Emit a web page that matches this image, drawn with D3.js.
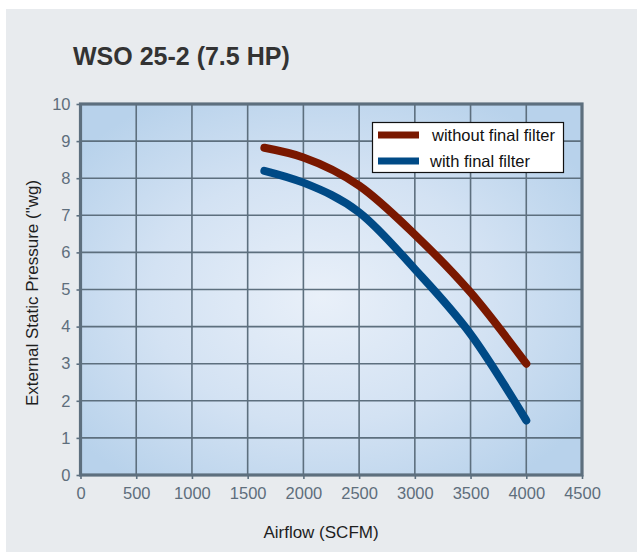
<!DOCTYPE html>
<html>
<head>
<meta charset="utf-8">
<script src="https://cdn.jsdelivr.net/npm/d3@7"></script>
<style>
  body { margin: 0; background: #fff; }
  svg { display: block; font-family: "Liberation Sans", Arial, sans-serif; }
</style>
</head>
<body>
<div id="chart"></div>
<script>
// values
var airflow = [1650, 2000, 2500, 3000, 3500, 4000];
var withoutFilter = [8.82, 8.56, 7.80, 6.48, 4.92, 3.00];
var withFilter = [8.20, 7.88, 7.08, 5.55, 3.80, 1.47];
var xTicks = [0, 500, 1000, 1500, 2000, 2500, 3000, 3500, 4000, 4500];
var yTicks = [0, 1, 2, 3, 4, 5, 6, 7, 8, 9, 10];
var seriesNames = ["without final filter", "with final filter"];
var seriesColors = ["#7a1800", "#004a86"];

var svgWidth = 637;
var svgHeight = 552;

var svg = d3.select("#chart")
  .append("svg")
  .attr("width", svgWidth)
  .attr("height", svgHeight);

// grey panel
svg.append("rect")
  .attr("x", 6).attr("y", 9)
  .attr("width", svgWidth - 6).attr("height", svgHeight - 9)
  .attr("fill", "#e8ebee");

var x = d3.scaleLinear().domain([0, 4500]).range([80.5, 582]);
var y = d3.scaleLinear().domain([0, 10]).range([475, 104]);

var defs = svg.append("defs");
var grad = defs.append("radialGradient")
  .attr("id", "plotBg")
  .attr("cx", "48%").attr("cy", "52%").attr("r", "62%");
grad.append("stop").attr("offset", "0%").attr("stop-color", "#e9f0f9");
grad.append("stop").attr("offset", "55%").attr("stop-color", "#d3e2f3");
grad.append("stop").attr("offset", "100%").attr("stop-color", "#b8d2eb");

svg.append("rect")
  .attr("x", x(0)).attr("y", y(10))
  .attr("width", x(4500) - x(0)).attr("height", y(0) - y(10))
  .attr("fill", "url(#plotBg)");

var gridColor = "#5d6f7e";

// grid
svg.append("g").selectAll("line")
  .data(xTicks)
  .enter().append("line")
  .attr("x1", d => x(d)).attr("x2", d => x(d))
  .attr("y1", y(10)).attr("y2", y(0))
  .attr("stroke", gridColor).attr("stroke-width", 1.6);

svg.append("g").selectAll("line")
  .data(yTicks)
  .enter().append("line")
  .attr("x1", x(0)).attr("x2", x(4500))
  .attr("y1", d => y(d)).attr("y2", d => y(d))
  .attr("stroke", gridColor).attr("stroke-width", 1.6);

// axes
var xAxis = d3.axisBottom(x).tickValues(xTicks).tickSize(4).tickPadding(8).tickFormat(d3.format("d"));
var yAxis = d3.axisLeft(y).tickValues(yTicks).tickSize(4).tickPadding(6).tickFormat(d3.format("d"));

var gx = svg.append("g")
  .attr("transform", `translate(0, ${y(0)})`)
  .call(xAxis);
var gy = svg.append("g")
  .attr("transform", `translate(${x(0)}, 0)`)
  .call(yAxis);

[gx, gy].forEach(function(g) {
  g.select(".domain").remove();
  g.selectAll(".tick line").attr("stroke", gridColor).attr("stroke-width", 1.6);
  g.selectAll(".tick text")
    .attr("fill", "#5e6e7c")
    .attr("font-size", 16.5)
    .attr("font-family", "Liberation Sans, Arial, sans-serif");
});

// frame
svg.append("rect")
  .attr("x", x(0)).attr("y", y(10))
  .attr("width", x(4500) - x(0)).attr("height", y(0) - y(10))
  .attr("fill", "none")
  .attr("stroke", gridColor)
  .attr("stroke-width", 3.2);

// curves
var line = d3.line()
  .x(d => x(d[0]))
  .y(d => y(d[1]))
  .curve(d3.curveMonotoneX);

[withoutFilter, withFilter].forEach(function(vals, i) {
  svg.append("path")
    .datum(airflow.map((a, j) => [a, vals[j]]))
    .attr("d", line)
    .attr("fill", "none")
    .attr("stroke", seriesColors[i])
    .attr("stroke-width", 8)
    .attr("stroke-linecap", "round")
    .attr("stroke-linejoin", "round");
});

// legend
var legend = svg.append("g");
legend.append("rect")
  .attr("x", 372.5).attr("y", 122.5)
  .attr("width", 191).attr("height", 50)
  .attr("fill", "#fff")
  .attr("stroke", "#111")
  .attr("stroke-width", 1.2);

seriesNames.forEach(function(name, i) {
  var ly = 135 + i * 26;
  legend.append("line")
    .attr("x1", 378).attr("x2", 419)
    .attr("y1", ly).attr("y2", ly)
    .attr("stroke", seriesColors[i])
    .attr("stroke-width", 7);
  legend.append("text")
    .attr("x", i == 0 ? 432 : 430)
    .attr("y", ly + 5.5)
    .attr("font-size", 16.5)
    .attr("fill", "#111")
    .text(name);
});

// titles
svg.append("text")
  .attr("x", 73).attr("y", 65)
  .attr("font-size", 25)
  .attr("font-weight", "bold")
  .attr("fill", "#333")
  .text("WSO 25-2 (7.5 HP)");

svg.append("text")
  .attr("transform", "translate(38, 293) rotate(-90)")
  .attr("text-anchor", "middle")
  .attr("font-size", 17)
  .attr("fill", "#1e1e1e")
  .text("External Static Pressure (\"wg)");

svg.append("text")
  .attr("x", 321).attr("y", 537.5)
  .attr("text-anchor", "middle")
  .attr("font-size", 17)
  .attr("fill", "#1e1e1e")
  .text("Airflow (SCFM)");
</script>
</body>
</html>
